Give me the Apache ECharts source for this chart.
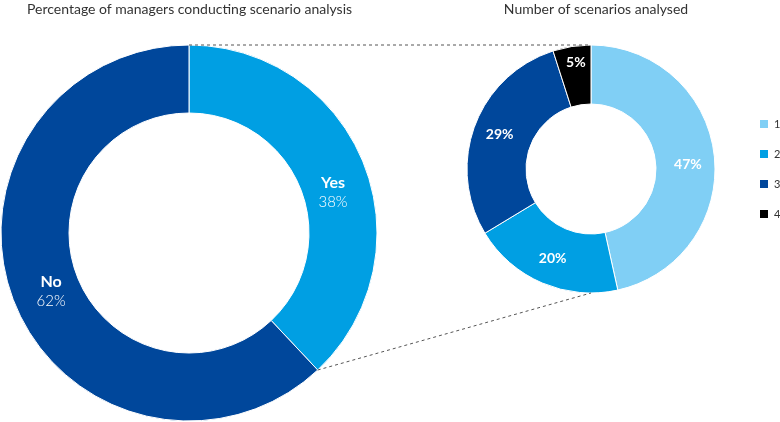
<!DOCTYPE html>
<html><head><meta charset="utf-8">
<script src="https://cdn.jsdelivr.net/npm/echarts@6/dist/echarts.min.js"></script>
<style>html,body{margin:0;padding:0;background:#fff}#c{width:780px;height:422px}</style>
</head><body><div id="c"></div>
<script>
var leftCategories = ['Yes', 'No'];
var leftValues = [38, 62];
var rightCategories = ['1', '2', '3', '4'];
var rightValues = [47, 20, 29, 5];
var leftTitle = 'Percentage of managers conducting scenario analysis';
var rightTitle = 'Number of scenarios analysed';

var leftColors = ['#009fe3', '#00479b'];
var rightColors = ['#80cff5', '#009fe3', '#00479b', '#000000'];
var leftLabelPad = [[34, 4, 0, 0], [0, 0, 0, 16]];
var rightLabelPad = [[12, 0, 0, 0], [0, 0, 0, 0], [0, 0, 0, 0], [0, 0, 20, 0]];
var LC = [189, 233], LR = [120, 188];
var RC = [591, 169], RR = [65, 124];

var chart = echarts.init(document.getElementById('c'), null, {renderer: 'canvas'});
var font = 'Lato, "Open Sans", sans-serif';

// connector lines computed from pie geometry
var leftTotal = leftValues.reduce(function(a,b){return a+b;},0);
var yesAngle = leftValues[0] / leftTotal * 2 * Math.PI;
var p1 = [LC[0], LC[1] - LR[1]];
var p2 = [RC[0], RC[1] - RR[1]];
var p3 = [LC[0] + LR[1] * Math.sin(yesAngle), LC[1] - LR[1] * Math.cos(yesAngle)];
var p4 = [RC[0], RC[1] + RR[1]];

chart.setOption({
  animation: false,
  textStyle: {fontFamily: font},
  title: [
    {text: leftTitle, left: 22, top: -3, textStyle: {fontSize: 14, fontWeight: 'normal', color: '#333', fontFamily: font}},
    {text: rightTitle, left: 591, top: -3, textAlign: 'center', textStyle: {fontSize: 14, fontWeight: 'normal', color: '#333', fontFamily: font}}
  ],
  legend: {
    data: rightCategories,
    orient: 'vertical',
    left: 753, top: 113,
    itemWidth: 10, itemHeight: 10, itemGap: 18,
    icon: 'rect',
    textStyle: {fontSize: 11, color: '#333', fontFamily: font}
  },
  graphic: [
    {type: 'line', shape: {x1: p1[0], y1: p1[1], x2: p2[0], y2: p2[1]}, style: {stroke: '#555', lineWidth: 1, lineDash: [3, 3]}, z: 10},
    {type: 'line', shape: {x1: p3[0], y1: p3[1], x2: p4[0], y2: p4[1]}, style: {stroke: '#555', lineWidth: 1, lineDash: [3, 3]}, z: 10}
  ],
  series: [
    {
      type: 'pie', center: LC, radius: LR, startAngle: 90, clockwise: true,
      avoidLabelOverlap: false, silent: true,
      itemStyle: {borderColor: '#fff', borderWidth: 1},
      label: {
        show: true, position: 'inside',
        formatter: function(p){ return '{b|' + p.name + '}\n{v|' + p.value + '%}'; },
        rich: {
          b: {fontSize: 16, fontWeight: 'bold', color: '#fff', fontFamily: font, lineHeight: 20},
          v: {fontSize: 15, fontWeight: 300, color: '#fff', fontFamily: font, lineHeight: 18}
        }
      },
      data: leftCategories.map(function(c, i){ return {name: c, value: leftValues[i], itemStyle: {color: leftColors[i]}, label: {padding: leftLabelPad[i]}}; })
    },
    {
      type: 'pie', center: RC, radius: RR, startAngle: 90, clockwise: true,
      avoidLabelOverlap: false, silent: true,
      itemStyle: {borderColor: '#fff', borderWidth: 1},
      label: {
        show: true, position: 'inside',
        formatter: function(p){ return '{v|' + p.value + '%}'; },
        rich: {
          v: {fontSize: 14, fontWeight: 'bold', color: '#fff', fontFamily: font, lineHeight: 18}
        }
      },
      data: rightCategories.map(function(c, i){ return {name: c, value: rightValues[i], itemStyle: {color: rightColors[i]}, label: {padding: rightLabelPad[i]}}; })
    }
  ]
});
</script></body></html>
